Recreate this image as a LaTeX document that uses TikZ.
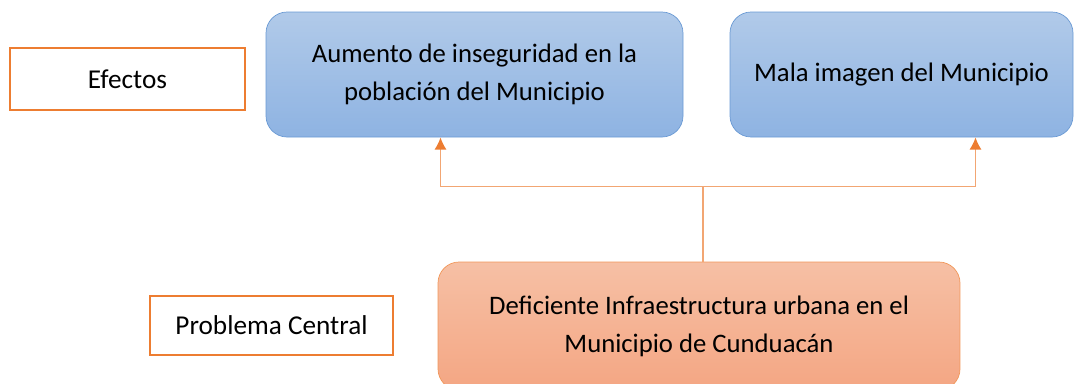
\documentclass[tikz,border=0pt]{standalone}
\usepackage{fontspec}
\setmainfont{Carlito}
\usetikzlibrary{calc}
\usetikzlibrary{positioning}
\definecolor{efborde}{HTML}{6A9AD4}
\definecolor{eftop}{HTML}{B1CAE9}
\definecolor{efbot}{HTML}{8EB3E2}
\definecolor{naranja}{HTML}{ED7D31}
\definecolor{pctop}{HTML}{F6C0A5}
\definecolor{pcbot}{HTML}{F4A683}
\definecolor{linea}{HTML}{F2A673}
\tikzset{
  etiqueta/.style={draw=naranja, line width=1.2pt, fill=white, inner sep=0pt, font=\fontsize{15.5}{19}\selectfont},
  efecto/.style={draw=efborde, rounded corners=12pt, top color=eftop, bottom color=efbot, inner sep=0pt, align=center, font=\fontsize{15.2}{21.5}\selectfont},
  problema/.style={draw=naranja!80, rounded corners=12pt, top color=pctop, bottom color=pcbot, inner sep=0pt, align=center, font=\fontsize{15.2}{21.5}\selectfont},
  conn/.style={draw=linea, line width=0.9pt},
  flecha/.style={conn, -{Latex[length=7pt,width=7pt,color=naranja]}}
}
\usetikzlibrary{arrows.meta}
\begin{document}
\begin{tikzpicture}[x=0.02cm, y=-0.02cm]
        \useasboundingbox (0,0) rectangle (1079,383);
        \node [etiqueta, minimum width=235*0.02cm, minimum height=62*0.02cm] (efectos) at (127.5,79) {Efectos};
        \node [etiqueta, minimum width=243*0.02cm, minimum height=59*0.02cm] (central) at (271.5,325.5) {Problema Central};
        \node [efecto, minimum width=417*0.02cm, minimum height=125*0.02cm] (inseg) at (474.5,74.5) {Aumento de inseguridad en la\\ población del Municipio};
        \node [efecto, minimum width=343*0.02cm, minimum height=125*0.02cm] (imagen) at (901.5,74.5) {Mala imagen del Municipio};
        \node [problema, minimum width=522*0.02cm, minimum height=128*0.02cm] (infra) at (699,326) {Deficiente Infraestructura urbana en el\\ Municipio de Cunduacán};
        \draw [conn] ([xshift=4*0.02cm]infra.north) -- ++(0,-75) coordinate (union);
        \draw [flecha] (union) -| ([xshift=-34*0.02cm]inseg.south);
        \draw [flecha] (union) -| ([xshift=74*0.02cm]imagen.south);
    \end{tikzpicture}
\end{document}
